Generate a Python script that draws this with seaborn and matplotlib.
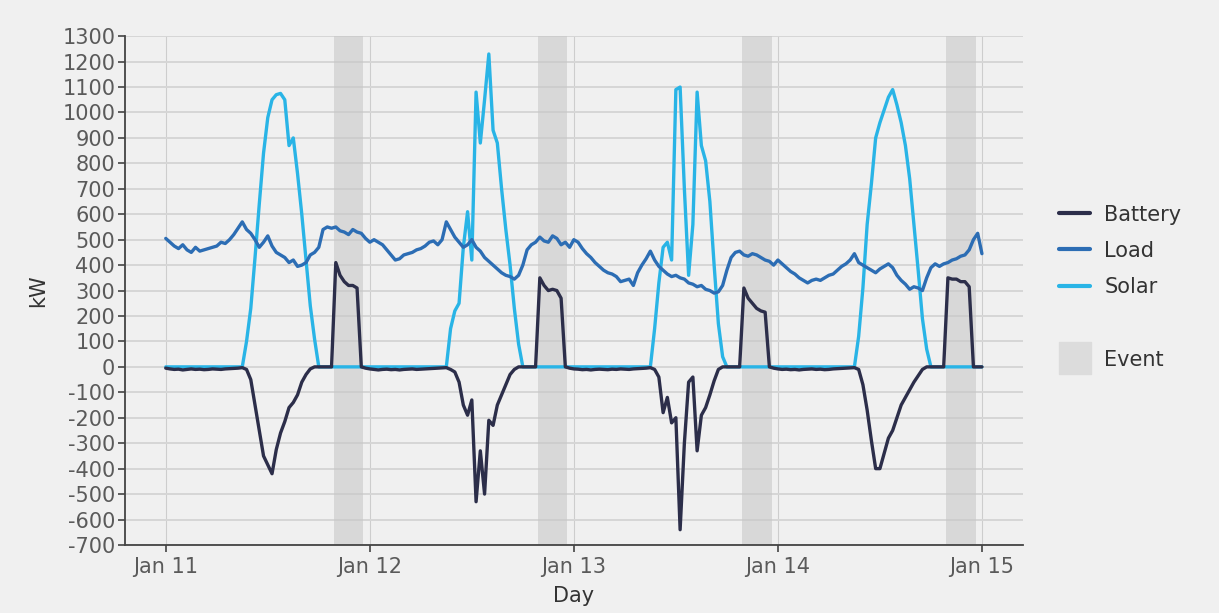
import matplotlib
matplotlib.use('Agg')
import matplotlib.pyplot as plt
import matplotlib.dates as mdates
from matplotlib.lines import Line2D
import pandas as pd
import seaborn as sns

# values read every 30 min, 00:00 .. 23:30 for each day
battery_jan11 = [-5, -8, -10, -9, -12, -10, -8, -10, -9, -11, -10, -8, -9, -10, -8, -7, -6, -5,
                 -3, -10, -50, -150, -250, -350, -385, -420, -325, -260, -215, -160, -140, -110,
                 -60, -30, -8, 0, 0, 0, 0, 0, 410, 360, 335, 320, 320, 310, 0, -5]
battery_jan12 = [-8, -10, -12, -10, -9, -11, -10, -12, -10, -9, -8, -10, -9, -8, -7, -6, -5, -4,
                 -3, -10, -20, -60, -150, -190, -130, -530, -330, -500, -210, -230, -150, -110,
                 -70, -30, -10, 0, 0, 0, 0, 0, 350, 320, 300, 305, 300, 270, 0, -5]
battery_jan13 = [-8, -9, -11, -10, -12, -10, -9, -10, -11, -9, -10, -8, -9, -10, -8, -7, -6, -5,
                 -3, -10, -40, -180, -120, -220, -200, -640, -300, -60, -40, -330, -190, -160,
                 -110, -55, -10, 0, 0, 0, 0, 0, 310, 270, 250, 230, 220, 215, 0, -5]
battery_jan14 = [-8, -10, -9, -11, -10, -12, -10, -9, -8, -10, -9, -11, -10, -8, -7, -6, -5, -4,
                 -3, -10, -70, -170, -290, -400, -400, -340, -280, -250, -200, -150, -120, -90,
                 -60, -35, -10, 0, 0, 0, 0, 0, 350, 345, 345, 335, 335, 315, 0, 0]
battery_jan15 = [0]

load_jan11 = [505, 490, 475, 465, 480, 460, 450, 470, 455, 460, 465, 470, 475, 490, 485, 500,
              520, 545, 570, 540, 525, 500, 470, 490, 515, 475, 450, 440, 430, 410, 420, 395,
              400, 410, 440, 450, 470, 540, 550, 545, 550, 535, 530, 520, 540, 530, 525, 505]
load_jan12 = [490, 500, 490, 480, 460, 440, 420, 425, 440, 445, 450, 460, 465, 475, 490, 495,
              480, 500, 570, 540, 510, 490, 470, 480, 500, 470, 455, 430, 415, 400, 385, 370,
              360, 355, 345, 360, 400, 460, 480, 490, 510, 495, 490, 515, 505, 480, 490, 470]
load_jan13 = [500, 490, 465, 445, 430, 410, 395, 380, 370, 365, 355, 335, 340, 345, 320, 370,
              400, 425, 455, 420, 395, 380, 365, 355, 360, 350, 345, 330, 325, 315, 320, 305,
              300, 290, 295, 320, 380, 430, 450, 455, 440, 435, 445, 440, 430, 420, 415, 400]
load_jan14 = [420, 405, 390, 375, 365, 350, 340, 330, 340, 345, 340, 350, 360, 365, 380, 395,
              405, 420, 445, 410, 400, 390, 380, 370, 385, 395, 405, 390, 360, 340, 325, 305,
              315, 310, 300, 350, 390, 405, 395, 405, 410, 420, 425, 435, 440, 460, 500, 525]
load_jan15 = [445]

solar_jan11 = [0] * 19 + [100, 230, 430, 640, 840, 980, 1050, 1070, 1075, 1050, 870, 900, 760,
                          600, 420, 240, 110] + [0] * 12
solar_jan12 = [0] * 19 + [150, 220, 250, 470, 610, 420, 1080, 880, 1050, 1230, 930, 880, 700,
                          540, 400, 230, 90] + [0] * 12
solar_jan13 = [0] * 19 + [150, 330, 470, 490, 420, 1090, 1100, 700, 360, 560, 1080, 870, 810,
                          650, 400, 170, 40] + [0] * 12
solar_jan14 = [0] * 19 + [120, 310, 560, 720, 900, 960, 1010, 1060, 1090, 1030, 960, 870, 740,
                          560, 380, 190, 70] + [0] * 12
solar_jan15 = [0]

event_days = ['2021-01-11', '2021-01-12', '2021-01-13', '2021-01-14']
event_start_h = 19.75
event_end_h = 23.25

colors = {'Battery': '#2c2e4a', 'Load': '#2c6db4', 'Solar': '#29b4e6'}
event_color = '#dcdcdc'

battery = battery_jan11 + battery_jan12 + battery_jan13 + battery_jan14 + battery_jan15
load = load_jan11 + load_jan12 + load_jan13 + load_jan14 + load_jan15
solar = solar_jan11 + solar_jan12 + solar_jan13 + solar_jan14 + solar_jan15
times = pd.date_range('2021-01-11', periods=len(battery), freq='30min')

df = pd.DataFrame({'time': times, 'Battery': battery, 'Load': load, 'Solar': solar})
df = df.melt(id_vars='time', var_name='series', value_name='kW')

sns.set_theme(style='whitegrid')
plt.rcParams['axes.unicode_minus'] = False
plt.rcParams['font.family'] = ['DejaVu Sans']

bg = '#f0f0f0'
fig, ax = plt.subplots(figsize=(12.19, 6.13), dpi=100)
fig.patch.set_facecolor(bg)
ax.set_facecolor(bg)
fig.subplots_adjust(left=0.1025, right=0.839, top=0.941, bottom=0.111)

for day in event_days:
    d0 = pd.Timestamp(day)
    ax.axvspan(d0 + pd.Timedelta(hours=event_start_h), d0 + pd.Timedelta(hours=event_end_h),
               color='#c6c6c6', alpha=0.55, lw=0, zorder=1)

# draw solar first so battery sits on top of the zero line
for name in ['Solar', 'Load', 'Battery']:
    sns.lineplot(data=df[df['series'] == name], x='time', y='kW', color=colors[name],
                 linewidth=2.4, errorbar=None, ax=ax, zorder=3)

ax.set_xlim(pd.Timestamp('2021-01-10 19:12'), pd.Timestamp('2021-01-15 04:48'))
ax.set_ylim(-700, 1300)
ax.set_yticks(range(-700, 1301, 100))
ax.xaxis.set_major_locator(mdates.DayLocator())
ax.xaxis.set_major_formatter(mdates.DateFormatter('%b %d'))

ax.yaxis.grid(True, color='#d6d6d6', lw=1.4)
ax.xaxis.grid(True, color='#cdcdcd', lw=0.8)
ax.set_axisbelow(True)

for side in ['top', 'right']:
    ax.spines[side].set_visible(False)
for side in ['left', 'bottom']:
    ax.spines[side].set_color('#444444')
    ax.spines[side].set_linewidth(1.3)

ax.tick_params(axis='both', left=True, bottom=True, length=5, width=1.2, color='#444444',
               labelsize=15, labelcolor='#5a5a5a', pad=2)
ax.tick_params(axis='x', pad=4)
ax.set_xlabel('Day', fontsize=15, color='#333333', labelpad=6)
ax.set_ylabel('kW', fontsize=15, color='#333333', labelpad=10)

handles = [Line2D([], [], color=colors['Battery'], lw=3),
           Line2D([], [], color=colors['Load'], lw=3),
           Line2D([], [], color=colors['Solar'], lw=3),
           Line2D([], [], color='none'),
           Line2D([], [], marker='s', markersize=23, color=event_color, linestyle='None')]
labels = ['Battery', 'Load', 'Solar', '', 'Event']
ax.legend(handles, labels, loc='upper left', bbox_to_anchor=(1.02, 0.706), frameon=False,
          fontsize=15, handlelength=1.45, handletextpad=0.7, labelspacing=0.78,
          labelcolor='#333333', numpoints=1)

fig.savefig('out.png', dpi=100, facecolor=bg)
